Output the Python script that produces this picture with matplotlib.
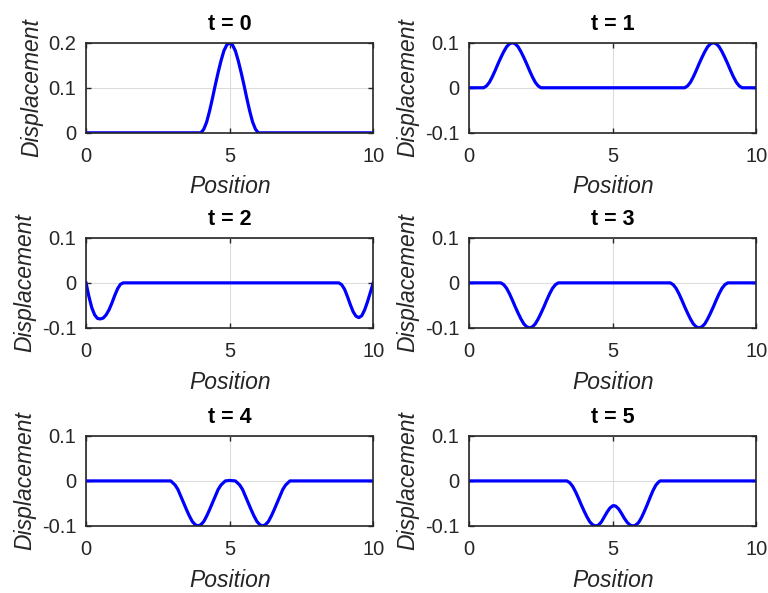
import numpy as np
import matplotlib.pyplot as plt

plt.rcParams['font.family'] = ['Liberation Sans', 'DejaVu Sans']
plt.rcParams['axes.unicode_minus'] = False

# string displacement sampled along the position axis at each time step
x_t0 = [0, 4.0, 4.1, 4.2, 4.3, 4.4, 4.5, 4.6, 4.7, 4.8, 4.9, 5.0,
        5.1, 5.2, 5.3, 5.4, 5.5, 5.6, 5.7, 5.8, 5.9, 6.0, 10]
y_t0 = [0, 0, 0.008, 0.024, 0.048, 0.076, 0.106, 0.134, 0.160, 0.182, 0.195, 0.2,
        0.195, 0.182, 0.160, 0.134, 0.106, 0.076, 0.048, 0.024, 0.008, 0, 0]

x_t1 = [0, 0.5, 0.6, 0.7, 0.8, 0.9, 1.0, 1.1, 1.2, 1.3, 1.4, 1.5,
        1.6, 1.7, 1.8, 1.9, 2.0, 2.1, 2.2, 2.3, 2.4, 2.5,
        7.5, 7.6, 7.7, 7.8, 7.9, 8.0, 8.1, 8.2, 8.3, 8.4, 8.5,
        8.6, 8.7, 8.8, 8.9, 9.0, 9.1, 9.2, 9.3, 9.4, 9.5, 10]
y_t1 = [0, 0, 0.004, 0.012, 0.024, 0.038, 0.053, 0.067, 0.080, 0.091, 0.0975, 0.1,
        0.0975, 0.091, 0.080, 0.067, 0.053, 0.038, 0.024, 0.012, 0.004, 0,
        0, 0.004, 0.012, 0.024, 0.038, 0.053, 0.067, 0.080, 0.091, 0.0975, 0.1,
        0.0975, 0.091, 0.080, 0.067, 0.053, 0.038, 0.024, 0.012, 0.004, 0, 0]

x_t2 = [0, 0.1, 0.2, 0.3, 0.4, 0.5, 0.6, 0.7, 0.8, 0.9, 1.0, 1.1, 1.2, 1.3,
        8.8, 8.9, 9.0, 9.1, 9.2, 9.3, 9.4, 9.5, 9.6, 9.7, 9.8, 9.9, 10]
y_t2 = [0, -0.030, -0.055, -0.071, -0.079, -0.080, -0.078, -0.071, -0.060, -0.045,
        -0.028, -0.013, -0.003, 0,
        0, -0.004, -0.014, -0.030, -0.048, -0.064, -0.074, -0.077, -0.073, -0.060,
        -0.042, -0.021, 0]

x_t3 = [0, 1.1, 1.2, 1.3, 1.4, 1.5, 1.6, 1.7, 1.8, 1.9, 2.0, 2.1,
        2.2, 2.3, 2.4, 2.5, 2.6, 2.7, 2.8, 2.9, 3.0, 3.1,
        7.0, 7.1, 7.2, 7.3, 7.4, 7.5, 7.6, 7.7, 7.8, 7.9, 8.0,
        8.1, 8.2, 8.3, 8.4, 8.5, 8.6, 8.7, 8.8, 8.9, 9.0, 10]
y_t3 = [0, 0, -0.004, -0.012, -0.024, -0.038, -0.053, -0.067, -0.080, -0.091, -0.0975, -0.1,
        -0.0975, -0.091, -0.080, -0.067, -0.053, -0.038, -0.024, -0.012, -0.004, 0,
        0, -0.004, -0.012, -0.024, -0.038, -0.053, -0.067, -0.080, -0.091, -0.0975, -0.1,
        -0.0975, -0.091, -0.080, -0.067, -0.053, -0.038, -0.024, -0.012, -0.004, 0, 0]

x_t4 = [0, 2.95, 3.1, 3.2, 3.3, 3.4, 3.5, 3.6, 3.7, 3.8, 3.9,
        4.0, 4.1, 4.2, 4.3, 4.4, 4.5, 4.6, 4.7, 4.85, 5.0,
        5.2, 5.35, 5.45, 5.55, 5.65, 5.75, 5.85, 5.95, 6.05, 6.15,
        6.25, 6.35, 6.45, 6.55, 6.65, 6.75, 6.85, 6.95, 7.1, 10]
y_t4 = [0, 0, -0.009, -0.019, -0.034, -0.049, -0.064, -0.078, -0.090, -0.097, -0.1,
        -0.097, -0.090, -0.078, -0.064, -0.049, -0.034, -0.019, -0.009, 0, 0.001,
        0, -0.009, -0.019, -0.034, -0.049, -0.064, -0.078, -0.090, -0.097, -0.1,
        -0.097, -0.090, -0.078, -0.064, -0.049, -0.034, -0.019, -0.009, 0, 0]

x_t5 = [0, 3.4, 3.5, 3.6, 3.7, 3.8, 3.9, 4.0, 4.1, 4.2, 4.3, 4.4,
        4.5, 4.6, 4.7, 4.8, 4.9, 5.0, 5.05, 5.1, 5.2, 5.3, 5.4, 5.5, 5.6, 5.7,
        5.8, 5.9, 6.0, 6.1, 6.2, 6.3, 6.4, 6.5, 6.6, 6.65, 10]
y_t5 = [0, 0, -0.004, -0.012, -0.024, -0.038, -0.053, -0.067, -0.080, -0.091, -0.0975, -0.1,
        -0.098, -0.091, -0.080, -0.069, -0.060, -0.055, -0.055, -0.056, -0.062, -0.072,
        -0.083, -0.092, -0.098, -0.1,
        -0.098, -0.092, -0.081, -0.067, -0.052, -0.036, -0.021, -0.009, -0.002, 0, 0]

times = [0, 1, 2, 3, 4, 5]
xs = [x_t0, x_t1, x_t2, x_t3, x_t4, x_t5]
ys = [y_t0, y_t1, y_t2, y_t3, y_t4, y_t5]

dark = '#262626'
fig = plt.figure(figsize=(7.68, 5.93), dpi=100)

lefts = [0.112, 0.611]
bottoms = [0.776, 0.447, 0.113]
w, h = 0.374, 0.152

for i, t in enumerate(times):
    ax = fig.add_axes([lefts[i % 2], bottoms[i // 2], w, h])
    ax.plot(xs[i], ys[i], color='#0000ff', linewidth=2.3)
    ax.set_xlim(0, 10)
    ax.set_xticks([0, 5, 10])
    ax.set_xticklabels(['0', '5', '10'])
    if t == 0:
        ax.set_ylim(0, 0.2)
        ax.set_yticks([0, 0.1, 0.2])
        ax.set_yticklabels(['0', '0.1', '0.2'])
    else:
        ax.set_ylim(-0.1, 0.1)
        ax.set_yticks([-0.1, 0, 0.1])
        ax.set_yticklabels(['-0.1', '0', '0.1'])
    ax.grid(True, color='#dcdcdc', linewidth=0.8)
    ax.set_axisbelow(True)
    ax.tick_params(direction='in', top=True, right=True, length=3.5, width=1.0,
                   colors=dark, labelsize=14.5)
    ax.tick_params(axis='x', pad=10)
    ax.tick_params(axis='y', pad=7)
    for sp in ax.spines.values():
        sp.set_color(dark)
        sp.set_linewidth(1.2)
    ax.set_title(f't = {t}', fontsize=15.5, fontweight='bold', pad=9)
    ax.set_xlabel('Position', fontsize=16.5, style='italic', color=dark, labelpad=7)
    ax.set_ylabel('Displacement', fontsize=16.5, style='italic', color=dark, labelpad=4)

fig.savefig('out.png', dpi=100, facecolor='white')
